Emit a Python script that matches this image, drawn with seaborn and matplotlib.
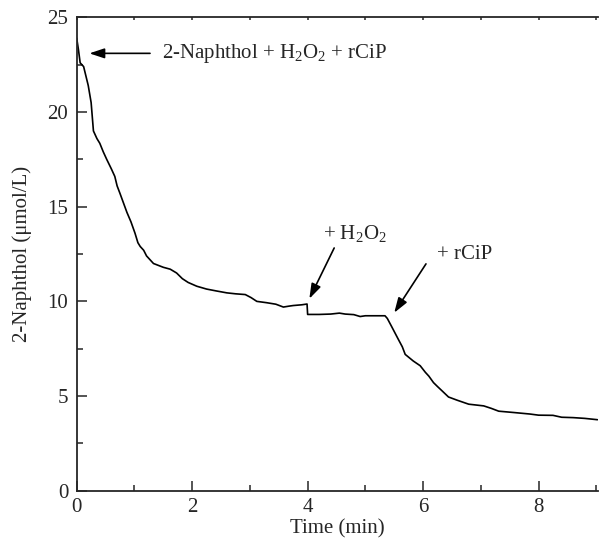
import matplotlib
matplotlib.use("Agg")
import matplotlib.pyplot as plt
import seaborn as sns
import pandas as pd
from matplotlib.ticker import MultipleLocator

# ==========================
# data
# ==========================
time_min = [0.00, 0.03, 0.06, 0.12, 0.20, 0.25, 0.29, 0.35, 0.40, 0.46,
            0.52, 0.60, 0.66, 0.70, 0.75, 0.81, 0.87, 0.94, 1.01, 1.06,
            1.10, 1.16, 1.21, 1.33, 1.50, 1.62, 1.73, 1.83, 1.93, 2.08,
            2.25, 2.42, 2.60, 2.75, 2.92, 3.02, 3.12, 3.29, 3.45, 3.58,
            3.68, 3.75, 3.90, 3.99, 4.00, 4.20, 4.40, 4.55, 4.65, 4.80,
            4.91, 5.00, 5.20, 5.34, 5.38, 5.45, 5.57, 5.64, 5.69, 5.83,
            5.95, 6.04, 6.10, 6.18, 6.25, 6.33, 6.44, 6.59, 6.79, 7.05,
            7.18, 7.31, 7.57, 7.85, 8.00, 8.25, 8.40, 8.60, 8.80, 9.02]
naphthol = [23.9, 23.3, 22.6, 22.4, 21.4, 20.5, 19.0, 18.6, 18.35, 17.9,
            17.5, 17.0, 16.6, 16.1, 15.7, 15.2, 14.7, 14.2, 13.6, 13.1,
            12.9, 12.7, 12.4, 12.0, 11.8, 11.7, 11.5, 11.2, 11.0, 10.8,
            10.65, 10.55, 10.45, 10.4, 10.36, 10.2, 10.0, 9.93, 9.85, 9.7,
            9.75, 9.78, 9.82, 9.86, 9.31, 9.31, 9.33, 9.38, 9.33, 9.3,
            9.2, 9.24, 9.24, 9.24, 9.1, 8.7, 8.0, 7.6, 7.2, 6.85,
            6.6, 6.25, 6.05, 5.71, 5.5, 5.27, 4.95, 4.78, 4.57, 4.48,
            4.35, 4.2, 4.13, 4.05, 3.99, 3.98, 3.88, 3.86, 3.82, 3.75]

# annotation labels, arrow tips and tails
labels = [r"2-Naphthol + H$_2$O$_2$ + rCiP", r"+ H$_2$O$_2$", "+ rCiP"]
arrow_tips = [(0.22, 23.1), (4.03, 10.14), (5.50, 9.40)]
arrow_tails = [(1.27, 23.1), (4.46, 12.82), (6.05, 11.98)]
label_pos = [(1.47, 23.1), (4.27, 13.6), (6.24, 12.46)]

df = pd.DataFrame({"time": time_min, "conc": naphthol})

# ==========================
# style
# ==========================
sns.set_style("ticks")
plt.rcParams["font.family"] = ["Liberation Serif", "DejaVu Serif"]
plt.rcParams["mathtext.fontset"] = "custom"
plt.rcParams["mathtext.rm"] = "Liberation Serif"
plt.rcParams["mathtext.it"] = "Liberation Serif:italic"

fig = plt.figure(figsize=(6.02, 5.43), dpi=100)
ax = fig.add_axes([0.1274, 0.0963, 0.866, 0.8717])

sns.lineplot(data=df, x="time", y="conc", estimator=None, sort=False,
             color="black", linewidth=1.2, ax=ax)

ax.set_xlim(0, 9.03)
ax.set_ylim(0, 25)
ax.xaxis.set_major_locator(MultipleLocator(2))
ax.xaxis.set_minor_locator(MultipleLocator(1))
ax.yaxis.set_major_locator(MultipleLocator(5))
ax.yaxis.set_minor_locator(MultipleLocator(2.5))

ax.tick_params(which="major", direction="in", length=7.5, width=1.1,
               labelsize=15, top=True, right=False)
ax.tick_params(which="minor", direction="in", length=4, width=1.1,
               top=True, right=False)
ax.tick_params(axis="x", which="major", pad=5)
ax.tick_params(axis="y", which="major", pad=6)

# top ticks are only tiny nicks in the reference
for t in ax.xaxis.get_major_ticks() + ax.xaxis.get_minor_ticks():
    t.tick2line.set_markersize(2)

for side in ["left", "bottom", "top"]:
    ax.spines[side].set_linewidth(1.3)
ax.spines["right"].set_visible(False)

ax.set_xlabel("Time (min)", fontsize=15, labelpad=2)
ax.set_ylabel("2-Naphthol (\u03bcmol/L)", fontsize=15, labelpad=11)

for lab, tip, tail, pos in zip(labels, arrow_tips, arrow_tails, label_pos):
    ax.annotate("", xy=tip, xytext=tail,
                arrowprops=dict(arrowstyle="-|>,head_length=0.9,head_width=0.3",
                                color="black", lw=1.2, shrinkA=0, shrinkB=0))
    ax.text(pos[0], pos[1], lab, fontsize=15, ha="left", va="center")

fig.savefig("out.png", dpi=100)
